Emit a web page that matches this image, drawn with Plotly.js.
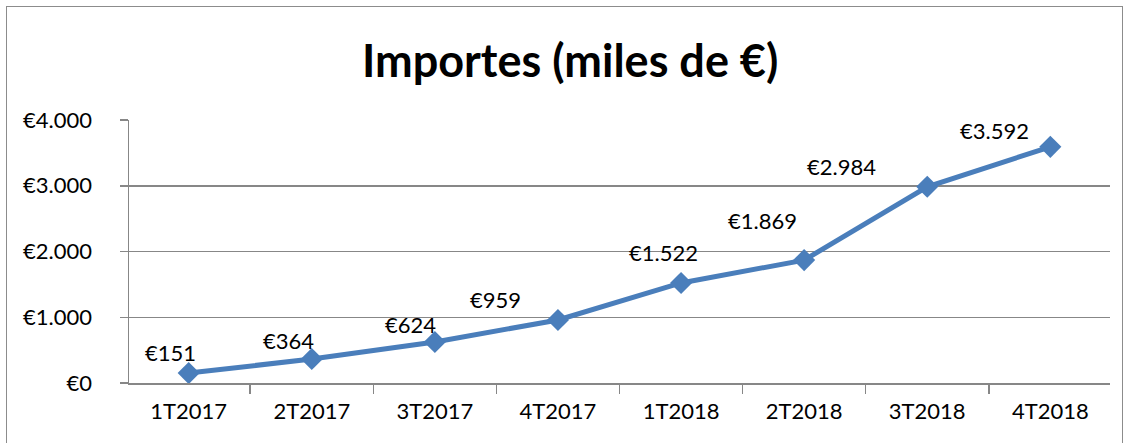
<!DOCTYPE html>
<html>
<head>
<meta charset="utf-8">
<script src="https://cdn.plot.ly/plotly-3.0.1.min.js"></script>
<style>
html,body{margin:0;padding:0;background:#fff;overflow:hidden;}
#wrap{position:absolute;left:0;top:0;width:1129px;height:443px;}
#frame{position:absolute;left:6px;top:6px;width:1115px;height:460px;border:1.5px solid #8c8c8c;pointer-events:none;}
#chart{position:absolute;left:0;top:0;width:1129px;height:443px;}
</style>
</head>
<body>
<div id="wrap"><div id="chart"></div><div id="frame"></div></div>
<script>
const categories = ["1T2017","2T2017","3T2017","4T2017","1T2018","2T2018","3T2018","4T2018"];
const importes = [151, 364, 624, 959, 1522, 1869, 2984, 3592];
const labelTexts = ["€151","€364","€624","€959","€1.522","€1.869","€2.984","€3.592"];
const yTicks = [0, 1000, 2000, 3000, 4000];
const yTickLabels = ["€0","€1.000","€2.000","€3.000","€4.000"];
// label placement offsets in pixels (x, y-up)
const labelDx = [-18, -23, -24, -62, -18, -42, -86, -56];
const labelDy = [21, 19, 17, 20, 30, 40, 20, 16];

const font = "Lato, 'Open Sans', sans-serif";
const grey = "#878787";

const trace = {
  x: categories, y: importes, type: "scatter", mode: "lines+markers",
  line: {color: "#4a7ebb", width: 5},
  marker: {symbol: "diamond", size: 17, color: "#4a7ebb"},
  hoverinfo: "skip"
};

const annotations = categories.map((c, i) => ({
  x: c, y: importes[i], xref: "x", yref: "y", text: labelTexts[i],
  showarrow: false, xshift: labelDx[i], yshift: labelDy[i],
  font: {family: font, size: 22, color: "#000"}
}));

const layout = {
  width: 1129, height: 443,
  margin: {l: 129, r: 19, t: 120, b: 60},
  paper_bgcolor: "#fff", plot_bgcolor: "#fff",
  showlegend: false,
  title: {text: "<b>Importes (miles de €)</b>", x: 0.505, xanchor: "center", y: 0.862, yanchor: "middle",
          font: {family: font, size: 45, color: "#000"}},
  xaxis: {type: "category", tickson: "boundaries", ticks: "outside", ticklen: 9, tickcolor: grey, tickwidth: 1.5,
          showline: true, linecolor: grey, linewidth: 1.5, showgrid: false, zeroline: false,
          tickfont: {family: font, size: 22, color: "#000"}, ticklabelstandoff: 8, fixedrange: true},
  yaxis: {range: [0, 4000], tickvals: yTicks, ticktext: yTickLabels, ticks: "outside", ticklen: 8,
          tickcolor: grey, tickwidth: 1.5, showline: true, linecolor: grey, linewidth: 1.5,
          showgrid: true, gridcolor: grey, gridwidth: 1.5, zeroline: false,
          tickfont: {family: font, size: 22, color: "#000"}, ticklabelstandoff: 23, fixedrange: true},
  annotations: annotations
};

Plotly.newPlot("chart", [trace], layout, {staticPlot: true, displayModeBar: false});
</script>
</body>
</html>
